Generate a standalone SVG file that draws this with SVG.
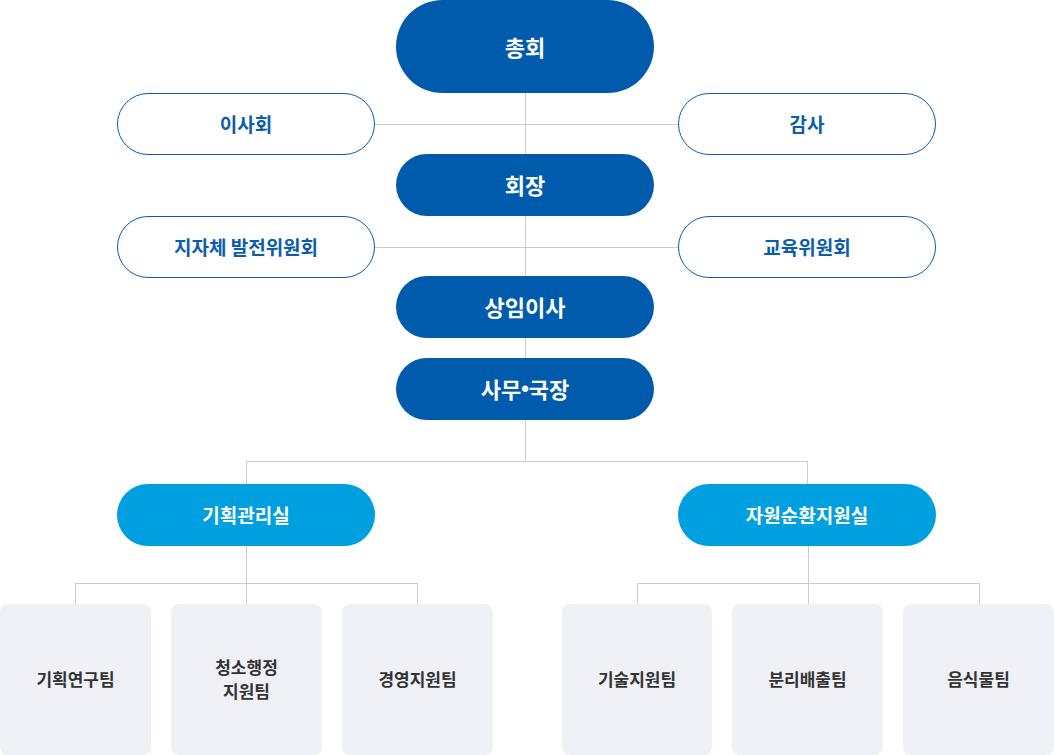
<svg xmlns="http://www.w3.org/2000/svg" width="1054" height="755" viewBox="0 0 1054 755">
<style>
text{font-family:"Noto Sans CJK KR","Noto Sans",sans-serif;font-weight:700;text-anchor:middle;dominant-baseline:central}
.dark rect{fill:#005bac}
.dark text{fill:#fff;font-size:22px}
.out rect{fill:#fff;stroke:#0a5cad;stroke-width:1}
.out text{fill:#0a5cad;font-size:19px}
.light rect{fill:#009fe0}
.light text{fill:#fff;font-size:19px}
.team rect{fill:#eff1f6}
.team text{fill:#333;font-size:17px}
.conn{stroke:#cccccc;stroke-width:1;fill:none}
.dot{font-family:"Liberation Sans",sans-serif}
</style>
<rect width="1054" height="755" fill="#fff"/>
<g id="connectors" class="conn">
<path d="M525.5 93V461M246.5 461.5H807.5M246.5 461V484M807.5 461V484"/>
<path d="M374 124.5H678M374 247.5H678"/>
<path d="M246.5 545V583.5M75.5 583.5H417.5M75.5 583V604M246.5 583V604M417.5 583V604"/>
<path d="M808.5 545V583.5M637.5 583.5H979.5M637.5 583V604M808.5 583V604M979.5 583V604"/>
</g>
<g id="n-chonghoe" class="dark"><rect x="396" y="0" width="258" height="93" rx="46.5"/><text x="525" y="46">총회</text></g>
<g id="n-isahoe" class="out"><rect x="117.5" y="93.5" width="257" height="61" rx="30.5"/><text x="246" y="123">이사회</text></g>
<g id="n-gamsa" class="out"><rect x="678.5" y="93.5" width="257" height="61" rx="30.5"/><text x="807" y="123">감사</text></g>
<g id="n-hoejang" class="dark"><rect x="396" y="154" width="258" height="62" rx="31"/><text x="525" y="184">회장</text></g>
<g id="n-jijache" class="out"><rect x="117.5" y="216.5" width="257" height="61" rx="30.5"/><text x="246" y="246">지자체 발전위원회</text></g>
<g id="n-gyoyuk" class="out"><rect x="678.5" y="216.5" width="257" height="61" rx="30.5"/><text x="807" y="246">교육위원회</text></g>
<g id="n-sangim" class="dark"><rect x="396" y="276" width="258" height="62" rx="31"/><text x="525" y="306">상임이사</text></g>
<g id="n-samuguk" class="dark"><rect x="396" y="358" width="258" height="62" rx="31"/><text x="525" y="388">사무<tspan class="dot">•</tspan>국장</text></g>
<g id="n-gihoek" class="light"><rect x="117" y="484" width="258" height="62" rx="31"/><text x="246" y="514">기획관리실</text></g>
<g id="n-jawon" class="light"><rect x="678" y="484" width="258" height="62" rx="31"/><text x="807" y="514">자원순환지원실</text></g>
<g id="t1" class="team"><rect x="0" y="604" width="151" height="151" rx="8"/><text x="75.5" y="678">기획연구팀</text></g>
<g id="t2" class="team"><rect x="171" y="604" width="151" height="151" rx="8"/><text x="246.5" y="666">청소행정</text><text x="246.5" y="690">지원팀</text></g>
<g id="t3" class="team"><rect x="342" y="604" width="151" height="151" rx="8"/><text x="417.5" y="678">경영지원팀</text></g>
<g id="t4" class="team"><rect x="562" y="604" width="150" height="151" rx="8"/><text x="637" y="678">기술지원팀</text></g>
<g id="t5" class="team"><rect x="732" y="604" width="151" height="151" rx="8"/><text x="807.5" y="678">분리배출팀</text></g>
<g id="t6" class="team"><rect x="903" y="604" width="151" height="151" rx="8"/><text x="978.5" y="678">음식물팀</text></g>
</svg>
